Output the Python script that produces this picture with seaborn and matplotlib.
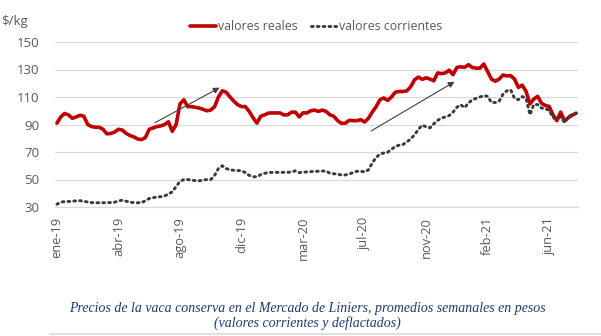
import numpy as np
import pandas as pd
import matplotlib
matplotlib.use("Agg")
import matplotlib.pyplot as plt
import seaborn as sns

# ---- data (weekly, ene-2019 .. ago-2021), $/kg ----
reales = [
    91, 95.5, 98, 97, 94.5, 95.5, 96.7, 96, 90, 88.5,
    88, 88, 86.5, 83.2, 83.5, 84.5, 86.5, 86, 83.5, 82,
    81, 79.5, 79, 80.5, 86.5, 87.5, 88.5, 89, 90, 92,
    85, 90, 105, 108, 103, 103, 102.5, 102, 101, 100,
    100.5, 103, 110, 114.5, 113.5, 110, 107, 104.4, 103, 103,
    99.5, 95, 91, 96, 97, 98.3, 98.4, 98.4, 98.4, 97,
    97, 99, 99, 95.5, 98.5, 98.4, 100, 100.5, 99.5, 100.5,
    99.5, 97, 96, 92.8, 90.8, 91, 93, 92.8, 92.8, 93.5,
    91.8, 94.5, 99, 103, 108, 109.3, 107.5, 110, 113.5, 114,
    114, 114.5, 117.5, 122.5, 124.5, 122.8, 124, 123, 121.8, 127.5,
    127, 127.5, 129.5, 126.3, 131.5, 132, 131.5, 133.5, 131.5, 131,
    131, 134, 128.5, 123, 121.5, 123, 126, 125.3, 125.5, 123,
    117, 118.6, 114, 105, 108.5, 110.5, 105.5, 103.8, 103.2, 97,
    92.8, 99, 92.5, 95, 96.8, 98.2,
]
corrientes = [
    32, 33.5, 34, 34, 34.2, 34.5, 34.6, 34.2, 33.6, 33.2,
    33.1, 33.1, 33.1, 33.1, 33.3, 33.5, 34.3, 35, 34.2, 33.5,
    33.2, 33.1, 33.2, 34.5, 36.2, 36.8, 37.2, 37.5, 38, 39.5,
    41, 45, 48.5, 50, 50, 49.5, 49.2, 49.1, 49.5, 50,
    50, 53, 58, 60, 58, 57, 56.7, 56.5, 56.4, 55,
    53, 52, 52, 53.5, 54.5, 55, 55.2, 55.2, 55.2, 55.2,
    55.2, 55.5, 56.3, 55, 55.3, 55.5, 55.7, 55.9, 56, 56.1,
    56.2, 54.5, 54.2, 53.8, 53.3, 53.3, 54, 55, 56, 56,
    55.5, 57, 62, 66, 68.5, 69.3, 69.8, 72, 74, 75,
    75.5, 77.3, 79.5, 82.5, 86.5, 89.5, 88.3, 87.5, 90.5, 93,
    94.7, 95.5, 96.5, 99, 102.5, 104.4, 102.2, 105.5, 108, 109,
    110, 111, 110.5, 106, 106, 107, 112, 114.5, 115.2, 109,
    108, 110.3, 109, 97, 104.5, 104.5, 102, 101.5, 100.2, 95,
    94, 95.5, 91.5, 96, 97, 98.2,
]
tick_labels = ["ene-19", "abr-19", "ago-19", "dic-19", "mar-20",
               "jul-20", "nov-20", "feb-21", "jun-21"]
y_ticks = [30, 50, 70, 90, 110, 130, 150]
serie_names = ["valores reales", "valores corrientes"]
caption = ("Precios de la vaca conserva en el Mercado de Liniers, promedios semanales en pesos\n"
           "(valores corrientes y deflactados)")
# trend arrows (tail, head) in data coords
arrow1 = ((25.5, 91.3), (42.3, 116.8))
arrow2 = ((81.7, 85.3), (103.4, 121.1))

n = len(reales)
df = pd.DataFrame({"semana": np.arange(n), "reales": reales, "corrientes": corrientes})

sns.set_theme(style="white")
plt.rcParams["font.family"] = ["Open Sans", "DejaVu Sans"]

W, H = 601, 336
fig = plt.figure(figsize=(W / 100, H / 100), dpi=100)
ax = fig.add_axes([55 / W, 1 - 207 / H, (578 - 55) / W, (207 - 42) / H])

gray = "#595959"
grid = "#d9d9d9"

sns.lineplot(data=df, x="semana", y="reales", ax=ax, color="#c00000",
             linewidth=2.6, label=serie_names[0], solid_joinstyle="round")
sns.lineplot(data=df, x="semana", y="corrientes", ax=ax, color="#3a3a3a",
             linewidth=2.1, linestyle=(0, (0.6, 1.4)), label=serie_names[1],
             dash_capstyle="round")

ax.set_xlim(-0.5, n - 0.5)
ax.set_ylim(30, 150)
ax.set_yticks(y_ticks)
ax.set_yticklabels([str(v) for v in y_ticks])
ax.yaxis.grid(True, color=grid, linewidth=0.9)
ax.set_axisbelow(True)
for s in ["top", "right", "left"]:
    ax.spines[s].set_visible(False)
ax.spines["bottom"].set_color(grid)
ax.spines["bottom"].set_linewidth(0.9)

ax.set_xticks(np.arange(0, n, 16)[:len(tick_labels)])
ax.set_xticklabels(tick_labels, rotation=90)
ax.set_xticks(np.arange(-0.5, n, 12), minor=True)
ax.tick_params(axis="x", which="major", length=0, pad=7, labelsize=9.3, labelcolor=gray)
ax.tick_params(axis="x", which="minor", length=4, color=grid, width=0.9)
ax.tick_params(axis="y", length=0, pad=11, labelsize=9.5, labelcolor=gray)
ax.set_xlabel("")
ax.set_ylabel("")

for tail, head in (arrow1, arrow2):
    ax.annotate("", xy=head, xytext=tail,
                arrowprops=dict(arrowstyle="-|>", color="#404040", lw=0.8,
                                mutation_scale=9, shrinkA=0, shrinkB=0))

leg = ax.legend(loc="center", bbox_to_anchor=(316 / W, 1 - 27 / H),
                bbox_transform=fig.transFigure, ncol=2, frameon=False,
                fontsize=8.9, handlelength=2.1, handletextpad=0.15,
                columnspacing=1.1, labelcolor=gray)

fig.text(1 / W, 1 - 21 / H, "$/kg", fontsize=9.5, color=gray, ha="left", va="center")

fig.text(307 / W, 1 - 316 / H, caption, ha="center", va="center", fontsize=10,
         style="italic", color="#1f3a6e", family=["Liberation Serif", "DejaVu Serif"],
         linespacing=1.15)
fig.add_artist(plt.Line2D([50 / W, 1.0], [1 - 334 / H] * 2, color="#e0e0e0",
                          linewidth=1.5, transform=fig.transFigure))

fig.savefig("out.png", dpi=100)
